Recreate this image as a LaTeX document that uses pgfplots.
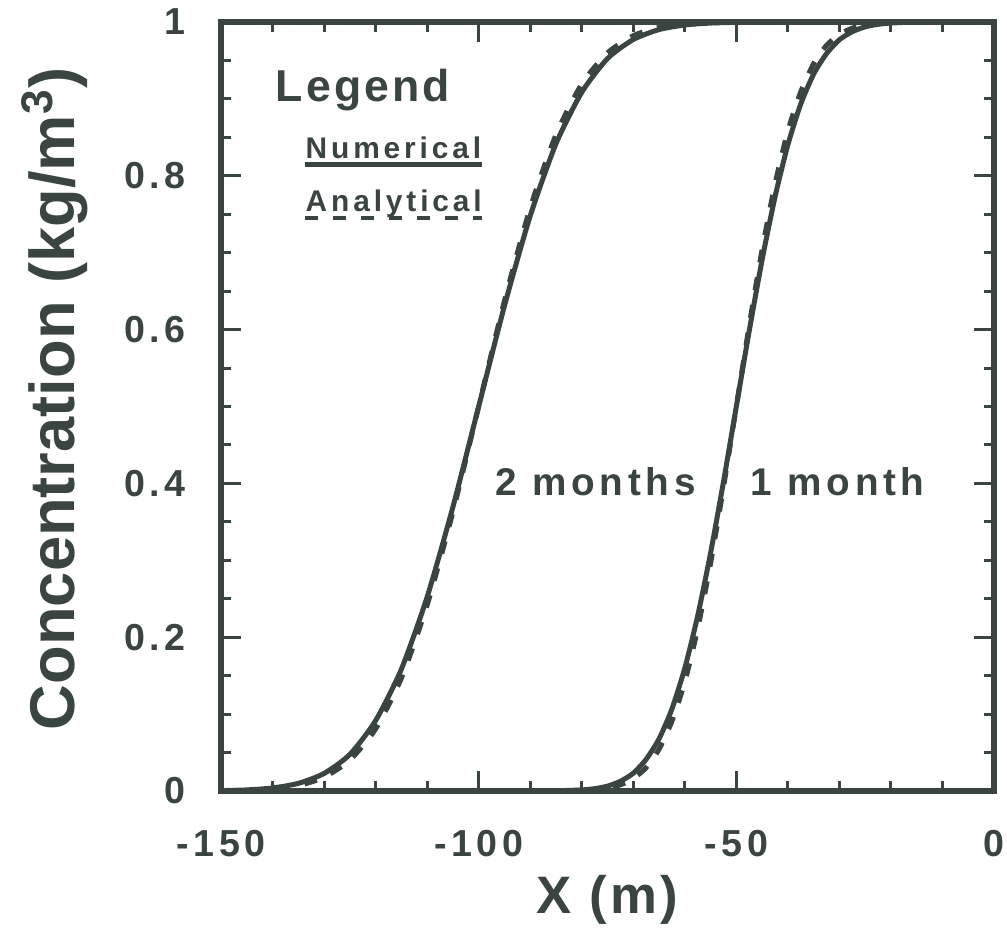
\documentclass[border=0pt]{standalone}
\usepackage{pgfplots}
\usepackage{pgfplotstable}
\pgfplotsset{compat=1.18}
\usepackage{fontspec}
\setmainfont{Liberation Sans}
\newfontfamily\tickfont{Liberation Sans}[LetterSpace=12]
\newfontfamily\legfont{Liberation Sans}[LetterSpace=13]
\newfontfamily\headfont{Liberation Sans}[LetterSpace=7]
\newfontfamily\monthfont{Liberation Sans}[LetterSpace=12]
\newfontfamily\xlabfont{Liberation Sans}[LetterSpace=6]
\definecolor{ink}{RGB}{58,68,64}

\pgfplotstableread{
x c
-150 0
-100 0
-90 0
-85 0.0003
-80 0.0014
-77.5 0.003
-75 0.0063
-72.5 0.0126
-70 0.0231
-67.5 0.0412
-65 0.0677
-62.5 0.1067
-60 0.1597
-57.5 0.2277
-55 0.3094
-52.5 0.4018
-50 0.5
-47.5 0.5982
-45 0.6906
-42.5 0.7723
-40 0.8403
-37.5 0.8933
-35 0.9323
-32.5 0.9588
-30 0.9769
-27.5 0.9874
-25 0.9937
-22.5 0.997
-20 0.9986
-15 1
-10 1
0 1
}\numA

\pgfplotstableread{
x c
-150 0
-100 0
-90 0
-85 0.0001
-80 0.0007
-77.5 0.0017
-75 0.0037
-72.5 0.0080
-70 0.0161
-67.5 0.0304
-65 0.0543
-62.5 0.0908
-60 0.1418
-57.5 0.2110
-55 0.2960
-52.5 0.3946
-50 0.5
-47.5 0.6054
-45 0.7040
-42.5 0.7890
-40 0.8582
-37.5 0.9092
-35 0.9457
-32.5 0.9696
-30 0.9839
-27.5 0.9920
-25 0.9963
-22.5 0.9983
-20 0.9993
-15 1
-10 1
0 1
}\anaA

\pgfplotstableread{
x c
-150 0.0005
-145 0.0014
-140 0.0039
-135 0.0099
-130 0.0228
-125 0.0475
-120 0.0915
-115 0.1584
-110 0.2522
-105 0.3693
-100 0.5
-95 0.6307
-90 0.7478
-85 0.8416
-80 0.9085
-75 0.9525
-70 0.9772
-65 0.9901
-60 0.9961
-55 0.9986
-50 0.9995
-45 1
-40 1
0 1
}\numB

\pgfplotstableread{
x c
-150 0.0002
-145 0.0009
-140 0.0026
-135 0.0071
-130 0.0178
-125 0.0402
-120 0.0807
-115 0.1467
-110 0.2418
-105 0.3628
-100 0.5
-95 0.6372
-90 0.7582
-85 0.8533
-80 0.9193
-75 0.9598
-70 0.9822
-65 0.9929
-60 0.9974
-55 0.9991
-50 0.9998
-45 1
-40 1
0 1
}\anaB

\begin{document}
\begin{tikzpicture}
\useasboundingbox (-22.1mm,-14.5mm) rectangle (78.6mm,79.1mm);
\begin{axis}[
  at={(0,0)}, anchor=south west,
  width=77.3mm, height=76.9mm, scale only axis,
  xmin=-150, xmax=0, ymin=0, ymax=1,
  xtick={-150,-100,-50,0}, xticklabels={-150,-100,-50,0},
  minor x tick num=4,
  ytick={0,0.2,0.4,0.6,0.8,1}, yticklabels={0,0.2,0.4,0.6,0.8,1},
  minor y tick num=3,
  tick align=inside,
  major tick length=2mm, minor tick length=1mm,
  tick style={ink, line width=0.3mm},
  axis line style={ink, line width=0.6mm},
  ticklabel style={font=\tickfont\bfseries\fontsize{10.7}{12}\selectfont, text=ink},
  xticklabel style={anchor=north, yshift=-2.7mm},
  yticklabel style={anchor=east, xshift=-2.3mm},
  xlabel={X (m)},
  xlabel style={at={(axis description cs:0.5,-0.094)}, anchor=north, font=\xlabfont\bfseries\fontsize{15}{17}\selectfont, text=ink},
  ylabel={Concentration (kg/m\textsuperscript{3})},
  ylabel style={at={(axis description cs:-0.189,0.51)}, anchor=base, font=\bfseries\fontsize{18}{20}\selectfont, text=ink},
]
\addplot[ink, line width=0.5mm, dash pattern=on 1.3mm off 1.5mm, smooth, tension=0.4] table[x=x,y=c] {\anaA};
\addplot[ink, line width=0.5mm, dash pattern=on 1.3mm off 1.5mm, smooth, tension=0.4] table[x=x,y=c] {\anaB};
\addplot[ink, line width=0.5mm, smooth, tension=0.4] table[x=x,y=c] {\numA};
\addplot[ink, line width=0.5mm, smooth, tension=0.4] table[x=x,y=c] {\numB};

\node[anchor=base west, inner sep=0, text=ink, font=\headfont\bfseries\fontsize{12.7}{14}\selectfont] at (axis cs:-139.5,0.897) {Legend};
\node[anchor=base west, inner sep=0, text=ink, font=\legfont\bfseries\fontsize{8.5}{10}\selectfont] at (axis cs:-133.7,0.823) {Numerical};
\draw[ink, line width=0.45mm] (axis cs:-133.7,0.815) -- (axis cs:-99.35,0.815);
\node[anchor=base west, inner sep=0, text=ink, font=\legfont\bfseries\fontsize{8.5}{10}\selectfont] at (axis cs:-133.7,0.754) {Analytical};
\draw[ink, line width=0.45mm, dash pattern=on 1.3mm off 1.5mm] (axis cs:-133.7,0.745) -- (axis cs:-99.35,0.745);

\node[anchor=base west, inner sep=0, text=ink, font=\monthfont\bfseries\fontsize{11}{13}\selectfont] at (axis cs:-96.8,0.384) {2 months};
\node[anchor=base west, inner sep=0, text=ink, font=\monthfont\bfseries\fontsize{11}{13}\selectfont] at (axis cs:-47.3,0.384) {1 month};
\end{axis}
\end{tikzpicture}
\end{document}
